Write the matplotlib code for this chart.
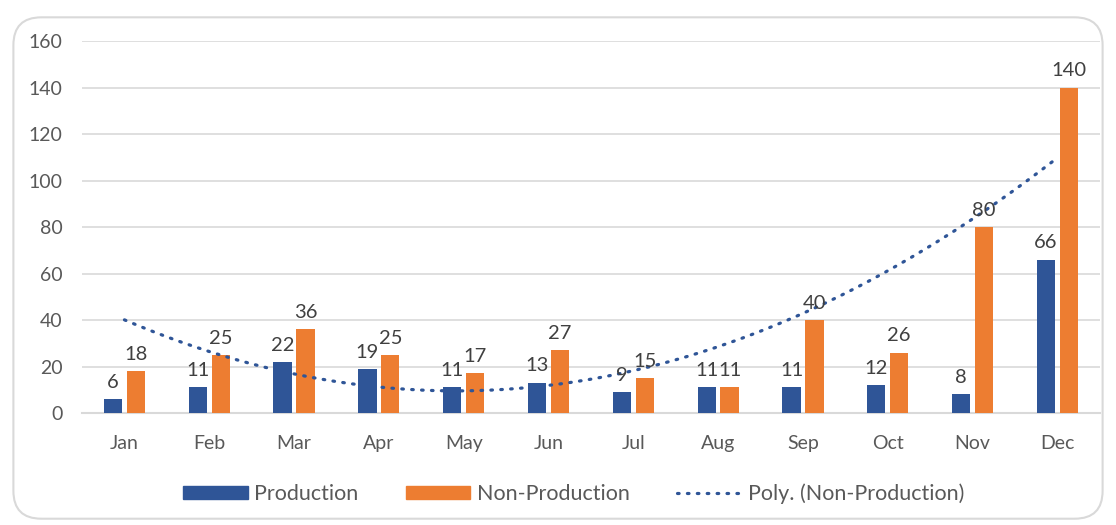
import numpy as np
import matplotlib.pyplot as plt
from matplotlib.patches import FancyBboxPatch
from matplotlib.patches import Patch
from matplotlib.lines import Line2D

months = ["Jan", "Feb", "Mar", "Apr", "May", "Jun", "Jul", "Aug", "Sep", "Oct", "Nov", "Dec"]
production = [6, 11, 22, 19, 11, 13, 9, 11, 11, 12, 8, 66]
non_production = [18, 25, 36, 25, 17, 27, 15, 11, 40, 26, 80, 140]

blue = "#2F5597"
orange = "#ED7D31"
text_col = "#595959"

plt.rcParams['font.family'] = ['Lato', 'DejaVu Sans']

fig = plt.figure(figsize=(11.16, 5.25), dpi=100)
ax = fig.add_axes([0.0735, 0.2133, 0.912, 0.7086])

# rounded frame around the whole chart
frame = FancyBboxPatch((0.012, 0.012), 0.976, 0.955, boxstyle="round,pad=0,rounding_size=0.025",
                       transform=fig.transFigure, facecolor="none", edgecolor="#D9D9D9", linewidth=1.5,
                       mutation_aspect=1116 / 525)
fig.patches.append(frame)

x = np.arange(len(months))
w = 0.215
off = 0.135
b1 = ax.bar(x - off, production, w, color=blue, zorder=3)
b2 = ax.bar(x + off, non_production, w, color=orange, zorder=3)

for rect, v in zip(b1, production):
    ax.annotate(str(v), (rect.get_x() + rect.get_width() / 2, v), xytext=(0, 6), textcoords="offset points",
                ha="center", va="bottom", fontsize=14.5, color="#404040", zorder=5)
for rect, v in zip(b2, non_production):
    ax.annotate(str(v), (rect.get_x() + rect.get_width() / 2, v), xytext=(0, 6), textcoords="offset points",
                ha="center", va="bottom", fontsize=14.5, color="#404040", zorder=5)

# second-order polynomial trendline, like the spreadsheet one
coef = np.polyfit(x + 1, non_production, 2)
xs = np.linspace(1, 12, 200)
dots = (0, (0.5, 2.6))
ax.plot(xs - 1, np.polyval(coef, xs), color=blue, linewidth=2.3, linestyle=dots,
        dash_capstyle="round", zorder=4)

ax.set_xlim(-0.5, 11.5)
ax.set_ylim(0, 160)
ax.set_yticks(range(0, 161, 20))
ax.set_xticks(x)
ax.set_xticklabels(months)
ax.tick_params(length=0, labelsize=14, colors=text_col)
ax.tick_params(axis="x", pad=16)
ax.tick_params(axis="y", pad=14)
ax.grid(axis="y", color="#D9D9D9", linewidth=1.2, zorder=0)
for s in ["top", "right", "left"]:
    ax.spines[s].set_visible(False)
ax.spines["bottom"].set_color("#D9D9D9")
ax.spines["bottom"].set_linewidth(1.5)

handles = [Patch(color=blue), Patch(color=orange),
           Line2D([0], [0], color=blue, linewidth=2.3, linestyle=dots, dash_capstyle="round")]
fig.legend(handles, ["Production", "Non-Production", "Poly. (Non-Production)"], loc="center",
           bbox_to_anchor=(0.514, 0.06), ncol=3, frameon=False, fontsize=15.5, labelcolor=text_col,
           handlelength=3.0, handleheight=0.55, columnspacing=2.2, handletextpad=0.3)

fig.savefig("out.png", dpi=100)
